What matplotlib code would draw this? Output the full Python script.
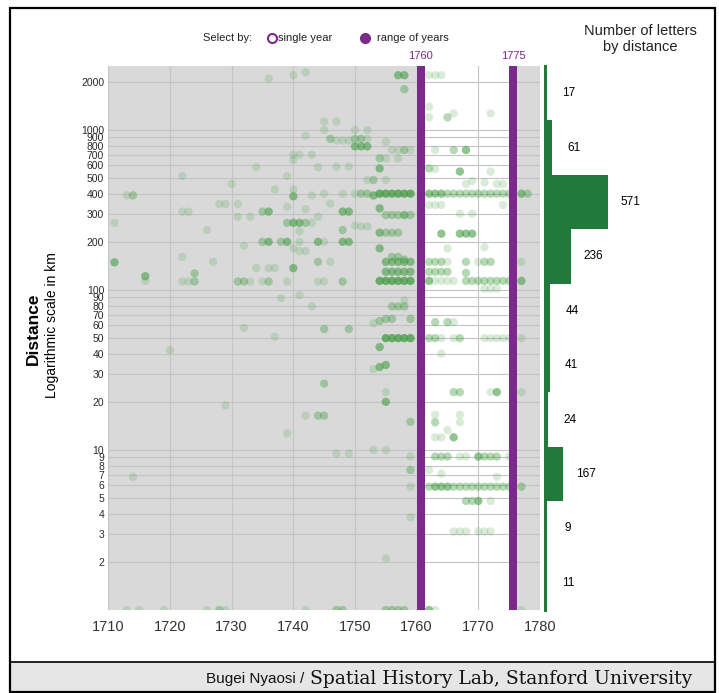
import numpy as np
import matplotlib
matplotlib.use("Agg")
import matplotlib.pyplot as plt
from matplotlib import font_manager
from matplotlib.patches import Rectangle
from matplotlib.lines import Line2D
from matplotlib.ticker import NullLocator

# --- data ----------------------------------------------------------------
# letters: year sent, distance in km, how many letters sit on the dot
dot_year = [
    1736, 1740, 1742, 1757, 1758, 1762, 1763, 1764, 1758, 1762,
    1762, 1765, 1766, 1772, 1745, 1747, 1745, 1750, 1752,
    1742, 1746, 1747, 1748, 1749, 1750, 1751, 1752, 1755, 1750,
    1751, 1752, 1756, 1757, 1758, 1759, 1763, 1766, 1768, 1740,
    1741, 1743, 1754, 1755, 1757, 1740, 1734, 1744, 1747, 1749,
    1754, 1762, 1763, 1767, 1772, 1722, 1739, 1752, 1753, 1755,
    1768, 1769, 1771, 1773, 1774, 1730, 1737, 1740,
    1713, 1714, 1740, 1743, 1745, 1748, 1750, 1751, 1752, 1753,
    1754, 1755, 1756, 1757, 1758, 1759, 1762, 1763, 1764, 1765,
    1766, 1767, 1768, 1769, 1770, 1771, 1772, 1773, 1774, 1775,
    1777, 1778,
    1728, 1729, 1731, 1746, 1739, 1742, 1754, 1722, 1723, 1735,
    1736, 1748, 1749, 1731, 1733, 1744, 1755, 1756, 1757, 1758,
    1759, 1762, 1763, 1764, 1767, 1769, 1774, 1711, 1739, 1740,
    1741, 1742, 1743, 1750, 1751, 1752, 1726, 1741, 1748, 1754,
    1755, 1756, 1757, 1764, 1767, 1768, 1769,
    1735, 1736, 1738, 1739, 1741, 1744, 1745, 1748, 1749, 1732,
    1740, 1741, 1742, 1754, 1765, 1771, 1722, 1756, 1757, 1758,
    1711, 1727, 1744, 1746, 1755, 1756, 1757, 1758, 1759, 1762,
    1763, 1764, 1765, 1768, 1770, 1771, 1772, 1777, 1734, 1736,
    1737, 1740, 1724, 1755, 1756, 1757, 1758, 1759, 1762, 1763,
    1764, 1765, 1768, 1716, 1716,
    1722, 1723, 1724, 1731, 1732, 1733, 1735, 1736, 1739, 1744,
    1745, 1748, 1754, 1755, 1756, 1757, 1758, 1759, 1762, 1763,
    1764, 1765, 1766, 1768, 1769, 1770, 1771, 1772, 1773, 1774,
    1775, 1777, 1771, 1772, 1773,
    1738, 1741, 1743, 1758, 1756, 1757, 1758, 1753, 1754, 1755,
    1756, 1759, 1763, 1765, 1766, 1732, 1745, 1749, 1737, 1755,
    1756, 1757, 1758, 1759, 1762, 1763, 1764, 1766, 1767, 1771,
    1772, 1773, 1774, 1775, 1777, 1720, 1754, 1764, 1753, 1754,
    1755, 1745, 1755, 1766, 1767, 1772, 1773, 1777, 1729, 1755,
    1742, 1744, 1745, 1763, 1767, 1759, 1763, 1767, 1739, 1765,
    1763, 1764, 1766, 1747, 1749, 1753, 1755, 1759, 1763, 1764,
    1765, 1767, 1768, 1770, 1771, 1772, 1773, 1775, 1714, 1759,
    1762, 1764, 1773, 1759, 1762, 1763, 1764, 1765, 1766, 1767,
    1768, 1769, 1770, 1771, 1772, 1773, 1774, 1775, 1777, 1768,
    1769, 1770, 1772, 1759, 1766, 1767, 1768, 1770, 1771, 1772,
    1755, 1713, 1715, 1719, 1726, 1728, 1729, 1742, 1747, 1748,
    1755, 1756, 1757, 1758, 1762, 1763, 1777,
]
dot_km = [
    2100, 2200, 2300, 2200, 2200, 2200, 2200, 2200, 1800, 1400,
    1200, 1200, 1270, 1270, 1130, 1130, 1000, 1000, 1000,
    920, 880, 860, 860, 860, 880, 880, 880, 845, 790,
    790, 790, 750, 750, 750, 750, 750, 750, 750, 700,
    700, 700, 665, 665, 665, 650, 585, 585, 590, 590,
    575, 575, 570, 550, 550, 516, 516, 487, 487, 487,
    460, 480, 470, 460, 460, 460, 425, 425,
    390, 390, 385, 390, 400, 400, 400, 400, 400, 390,
    400, 400, 400, 400, 400, 400, 400, 400, 400, 400,
    400, 400, 400, 400, 400, 400, 400, 400, 400, 400,
    400, 400,
    345, 345, 345, 347, 331, 320, 324, 309, 309, 309,
    309, 309, 309, 287, 287, 287, 294, 294, 294, 294,
    294, 340, 340, 340, 300, 300, 340, 263, 263, 263,
    263, 263, 263, 253, 250, 250, 237, 233, 237, 228,
    228, 228, 228, 225, 225, 225, 225,
    200, 200, 200, 200, 200, 200, 200, 200, 200, 189,
    182, 175, 175, 182, 182, 185, 161, 161, 161, 155,
    149, 150, 150, 150, 150, 150, 150, 150, 150, 150,
    150, 150, 150, 150, 150, 150, 150, 150, 137, 137,
    137, 137, 127, 130, 130, 130, 130, 130, 130, 130,
    130, 130, 128, 122, 114,
    113, 113, 113, 113, 113, 113, 113, 113, 113, 113,
    113, 113, 114, 114, 114, 114, 114, 114, 114, 114,
    114, 114, 114, 114, 114, 114, 114, 114, 114, 114,
    114, 114, 102, 102, 102,
    89, 93, 79, 86, 79, 79, 79, 62, 64, 66,
    66, 66, 63, 63, 63, 58, 57, 57, 51, 50,
    50, 50, 50, 50, 50, 50, 50, 50, 50, 50,
    50, 50, 50, 50, 50, 42, 44, 40, 32, 33,
    34, 26, 23, 23, 23, 23, 23, 23, 19, 20,
    16.4, 16.4, 16.4, 16.6, 16.6, 15, 14.9, 14.9, 12.7, 13.3,
    12, 12, 12, 9.5, 9.5, 10, 10, 9.1, 9.1, 9.1,
    9.1, 9.1, 9.1, 9.1, 9.1, 9.1, 9.1, 9.1, 6.8, 7.5,
    7.5, 7.1, 6.8, 5.9, 5.9, 5.9, 5.9, 5.9, 5.9, 5.9,
    5.9, 5.9, 5.9, 5.9, 5.9, 5.9, 5.9, 5.9, 5.9, 4.8,
    4.8, 4.8, 4.8, 3.8, 3.1, 3.1, 3.1, 3.1, 3.1, 3.1,
    2.1, 1, 1, 1, 1, 1, 1, 1, 1, 1,
    1, 1, 1, 1, 1, 1, 1,
]
dot_n = [
    1, 1, 1, 3, 3, 1, 1, 1, 2, 1,
    1, 2, 1, 1, 1, 1, 1, 1, 1,
    1, 2, 1, 1, 1, 2, 2, 1, 1, 3,
    3, 3, 1, 1, 2, 1, 1, 2, 3, 1,
    1, 1, 2, 1, 1, 1, 1, 1, 1, 1,
    3, 2, 1, 3, 1, 1, 1, 1, 2, 1,
    1, 1, 1, 1, 1, 1, 1, 1,
    1, 2, 3, 1, 1, 1, 1, 2, 2, 3,
    4, 4, 4, 4, 4, 4, 3, 3, 3, 2,
    2, 2, 2, 2, 2, 2, 2, 2, 2, 2,
    3, 2,
    1, 1, 1, 1, 1, 1, 3, 1, 1, 2,
    3, 3, 3, 1, 1, 1, 2, 2, 2, 3,
    2, 1, 1, 1, 1, 1, 1, 1, 2, 3,
    3, 2, 1, 1, 1, 1, 1, 1, 2, 3,
    2, 2, 2, 3, 3, 3, 3,
    2, 3, 2, 3, 1, 3, 1, 3, 3, 1,
    1, 1, 1, 3, 1, 1, 1, 2, 2, 2,
    3, 1, 2, 1, 3, 3, 3, 3, 3, 2,
    2, 2, 1, 2, 1, 2, 2, 1, 1, 1,
    1, 3, 2, 3, 3, 3, 3, 3, 2, 2,
    2, 2, 2, 3, 1,
    1, 1, 2, 2, 2, 1, 1, 2, 1, 1,
    1, 2, 4, 4, 4, 4, 4, 4, 3, 1,
    1, 1, 1, 2, 2, 2, 2, 2, 2, 2,
    2, 3, 1, 1, 1,
    1, 1, 1, 1, 2, 2, 2, 1, 2, 2,
    2, 2, 2, 2, 1, 1, 2, 2, 1, 4,
    4, 4, 4, 4, 2, 2, 1, 1, 2, 1,
    1, 1, 1, 1, 1, 1, 3, 1, 1, 3,
    3, 2, 1, 2, 2, 1, 3, 1, 1, 3,
    1, 2, 2, 1, 1, 2, 2, 1, 1, 1,
    1, 1, 3, 1, 1, 1, 1, 1, 2, 2,
    2, 1, 1, 3, 2, 2, 2, 1, 1, 2,
    1, 1, 1, 1, 2, 3, 3, 3, 2, 2,
    2, 2, 2, 2, 2, 2, 2, 2, 2, 2,
    2, 3, 1, 1, 1, 1, 1, 1, 1, 1,
    1, 1, 1, 1, 1, 2, 1, 1, 2, 2,
    2, 2, 2, 2, 3, 1, 1,
]
assert len(dot_year) == len(dot_km) == len(dot_n)

ytick_vals = [2, 3, 4, 5, 6, 7, 8, 9, 10, 20, 30, 40, 50, 60, 70, 80, 90,
              100, 200, 300, 400, 500, 600, 700, 800, 900, 1000, 2000]
xtick_vals = [1710, 1720, 1730, 1740, 1750, 1760, 1770, 1780]

range_start, range_end = 1760, 1775

# histogram, top bin first
hist_counts = [17, 61, 571, 236, 44, 41, 24, 167, 9, 11]

# --- style ---------------------------------------------------------------
names = {f.name for f in font_manager.fontManager.ttflist}
SANS = "Liberation Sans" if "Liberation Sans" in names else "DejaVu Sans"
NARROW = "Liberation Sans Narrow" if "Liberation Sans Narrow" in names else SANS
SERIF = "DejaVu Serif"

PURPLE = "#7b2a8c"
GREEN = "#217a3b"
DOT = np.array([0.28, 0.62, 0.28])
GRID = "#c4c4c4"

W, H = 719, 693
fig = plt.figure(figsize=(W / 100, H / 100), dpi=100)


def fx(px):
    return px / W


def fy(py):
    return 1 - py / H


top, bottom = 66, 610
x0, x1 = 108.3, 540.0

# --- main scatter ---------------------------------------------------------
ax = fig.add_axes([fx(x0), fy(bottom), (x1 - x0) / W, (bottom - top) / H])
ax.set_facecolor("#d9d9d9")
ax.set_xlim(1710, 1780)
ax.set_yscale("log")
ax.set_ylim(1, 2512)
for s in ax.spines.values():
    s.set_visible(False)

ax.set_yticks(ytick_vals)
ax.set_yticklabels([str(v) for v in ytick_vals], fontsize=7.5, family=SANS, color="#2a2a2a")
ax.yaxis.set_minor_locator(NullLocator())
ax.set_xticks(xtick_vals)
ax.set_xticklabels([str(v) for v in xtick_vals], fontsize=10.5, family=NARROW, color="#333333")
ax.tick_params(axis="y", length=0, pad=3)
ax.tick_params(axis="x", length=0, pad=7)

ax.axvspan(range_start + 1.3, range_end, color="white", lw=0, zorder=0.5)
for v in ytick_vals:
    ax.axhline(v, color=GRID, lw=0.8, zorder=1)
for v in xtick_vals:
    ax.axvline(v, color=GRID, lw=0.8, zorder=1)

alpha_for = {1: 0.2, 2: 0.4, 3: 0.6, 4: 0.78}
colors = [(*DOT, alpha_for[n]) for n in dot_n]
ax.scatter(dot_year, dot_km, s=36, c=colors, edgecolors="none", zorder=3)

for yr in (range_start, range_end):
    ax.axvspan(yr, yr + 1.3, color=PURPLE, lw=0, zorder=4)
    ax.annotate(str(yr), xy=(yr + 0.65, 1), xycoords=("data", "axes fraction"),
                xytext=(0, 7.5), textcoords="offset points", ha="center", va="center",
                fontsize=8, family=NARROW, color=PURPLE)

# --- histogram ------------------------------------------------------------
hx = fig.add_axes([fx(545), fy(bottom), 170 / W, (bottom - top) / H])
hx.set_xlim(0, 170 / 0.1103)
hx.set_ylim(0, len(hist_counts))
hx.axis("off")
ypos = np.arange(len(hist_counts))[::-1] + 0.5
hx.barh(ypos, hist_counts, height=1.0, color=GREEN, lw=0)
hx.axvline(0, color=GREEN, lw=2.2, clip_on=False)
for y, c in zip(ypos, hist_counts):
    hx.annotate(str(c), xy=(c, y), xytext=(16, 0), textcoords="offset points",
                ha="center", va="center", fontsize=8.5, family=SANS)

# --- labels around --------------------------------------------------------
fig.text(fx(640), fy(39), "Number of letters\nby distance", ha="center", va="center",
         fontsize=10.5, family=SANS, color="#222222")
fig.text(fx(33), fy(329), "Distance", rotation=90, ha="center", va="center",
         fontsize=12.5, fontweight="bold", family=SANS)
fig.text(fx(52), fy(325), "Logarithmic scale in km", rotation=90, ha="center",
         va="center", fontsize=10, family=SANS)

fig.text(fx(203), fy(38), "Select by:", ha="left", va="center", fontsize=8,
         family=SANS, color="#222222")
fig.add_artist(Line2D([fx(272)], [fy(38)], marker="o", mfc="none", mec=PURPLE,
                      ms=6.5, mew=1.5, transform=fig.transFigure))
fig.text(fx(278), fy(38), "single year", ha="left", va="center", fontsize=8,
         family=SANS, color="#222222")
fig.add_artist(Line2D([fx(365)], [fy(38)], marker="o", mfc=PURPLE, mec=PURPLE,
                      ms=7, transform=fig.transFigure))
fig.text(fx(377), fy(38), "range of years", ha="left", va="center", fontsize=8,
         family=SANS, color="#222222")

# frame and footer
fig.add_artist(Rectangle((fx(10), fy(692)), 705 / W, 30 / H, transform=fig.transFigure,
                         facecolor="#e6e6e6", edgecolor="none"))
fig.add_artist(Line2D([fx(10), fx(715)], [fy(662), fy(662)], color="black", lw=1.2,
                      transform=fig.transFigure))
fig.add_artist(Rectangle((fx(10), fy(692)), 705 / W, 684 / H, transform=fig.transFigure,
                         facecolor="none", edgecolor="black", lw=1.6))

serif = fig.text(fx(692), fy(679), "Spatial History Lab, Stanford University",
                 ha="right", va="center", fontsize=13.5, family=SERIF, color="#111111")
fig.canvas.draw()
bb = serif.get_window_extent()
fig.text(bb.x0 / W - 0.008, fy(679), "Bugei Nyaosi /", ha="right", va="center",
         fontsize=11, family=NARROW, color="#111111")

fig.savefig("out.png", dpi=100)
